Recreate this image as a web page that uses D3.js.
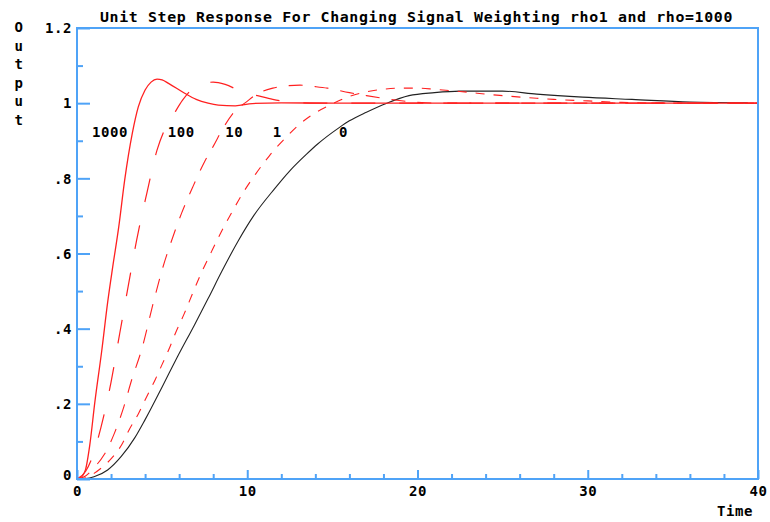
<!DOCTYPE html>
<html>
<head>
    <title>Unit Step Response</title>
    <script src="https://d3js.org/d3.v7.min.js"></script>
    <style>
        body {
            margin: 0;
            background: #fff;
        }
        text {
            font-family: "DejaVu Sans Mono", monospace;
            font-weight: bold;
            font-size: 14px;
            letter-spacing: 0.6px;
            fill: #000;
        }
        .axis line {
            stroke: #4fa3f7;
            stroke-width: 2px;
        }
        .axis path {
            display: none;
        }
    </style>
</head>
<body>
<div id="chart"></div>
<script>
    // values, [time, output]
    const rho1000 = [[0,0],[0.2,0.003],[0.5,0.025],[0.75,0.09],[1.05,0.205],[1.45,0.34],[1.8,0.47],[2.1,0.565],
        [2.45,0.67],[2.8,0.795],[3.25,0.92],[3.6,0.99],[4.0,1.035],[4.35,1.056],[4.7,1.064],[5.0,1.062],[5.4,1.052],
        [6.3,1.027],[7.0,1.01],[7.7,1.0],[8.3,0.995],[9.3,0.993],[10.3,0.999],[12,1.001],[15,1.0],[20,1.0],[40,1.0]];
    const rho100 = [[0,0],[0.5,0.02],[0.88,0.056],[1.4,0.136],[2.0,0.258],[2.5,0.385],[3.0,0.511],[3.5,0.635],
        [4.1,0.76],[4.7,0.875],[5.15,0.93],[5.65,0.968],[6.2,1.008],[6.7,1.035],[7.3,1.05],[8.0,1.056],[8.7,1.05],
        [9.7,1.03],[10.6,1.02],[11.5,1.01],[12.5,1.003],[14,1.0],[20,1.0],[40,1.0]];
    const rho10 = [[0,0],[0.5,0.008],[1.0,0.03],[1.6,0.065],[2.2,0.122],[2.75,0.192],[3.2,0.262],[3.8,0.345],
        [4.5,0.472],[5.05,0.564],[5.6,0.64],[6.15,0.708],[6.8,0.777],[7.5,0.845],[8.0,0.885],[8.6,0.935],[9.4,0.985],
        [9.85,1.0],[10.6,1.025],[11.5,1.04],[12.3,1.046],[13.1,1.048],[14,1.044],[14.7,1.04],[16,1.028],[17,1.02],
        [18,1.013],[19.3,1.005],[20.5,1.001],[22,1.0],[40,1.0]];
    const rho1 = [[0,0],[0.5,0.003],[1.0,0.015],[1.5,0.032],[2.05,0.056],[2.65,0.093],[3.05,0.13],[3.6,0.173],
        [4.05,0.215],[4.6,0.265],[5.0,0.305],[5.4,0.345],[5.8,0.39],[6.3,0.44],[6.8,0.495],[7.3,0.548],[7.9,0.605],
        [8.5,0.66],[9.1,0.71],[9.8,0.765],[10.5,0.812],[11.3,0.86],[12.3,0.91],[13.1,0.945],[14.1,0.977],
        [15,0.998],[16,1.018],[17,1.03],[18,1.037],[19,1.04],[20,1.04],[21,1.037],[22,1.033],[23,1.029],[24,1.024],
        [25,1.02],[27,1.013],[28,1.01],[30,1.006],[32,1.002],[34,1.0],[40,1.0]];
    const rho0 = [[0,0],[0.5,0.001],[1.0,0.006],[1.8,0.024],[2.6,0.06],[3.4,0.11],[4.0,0.158],[5.0,0.245],
        [5.9,0.325],[6.9,0.41],[7.7,0.48],[8.5,0.552],[9.45,0.632],[10.4,0.702],[11.6,0.772],[12.5,0.82],
        [13.5,0.865],[14.1,0.89],[15.4,0.935],[16,0.953],[17,0.976],[18.2,1.0],[19.5,1.02],[21,1.028],[22.5,1.032],
        [25,1.032],[27,1.024],[29.7,1.016],[32.6,1.01],[36,1.003],[39.4,1.001]];

    const curveNames = ["1000", "100", "10", "1", "0"];
    const labelTimes = [1.94, 6.13, 9.24, 11.76, 15.66];
    const labelLevel = 0.91;

    const xMajor = [0, 10, 20, 30, 40];
    const xMinor = [2, 4, 6, 8, 12, 14, 16, 18, 22, 24, 26, 28, 32, 34, 36, 38];
    const yMajor = [0, 0.2, 0.4, 0.6, 0.8, 1, 1.2];
    const yMinor = [0.1, 0.3, 0.5, 0.7, 0.9, 1.1];
    const yTickLabels = ["0", ".2", ".4", ".6", ".8", "1", "1.2"];

    const title = "Unit Step Response For Changing Signal Weighting rho1 and rho=1000";

    const width = 770, height = 522;
    const plotL = 77, plotR = 758, plotT = 28, plotB = 479;

    const svg = d3.select("#chart").append("svg")
        .attr("width", width)
        .attr("height", height);

    const x = d3.scaleLinear().domain([0, 40]).range([plotL, plotR]);
    const y = d3.scaleLinear().domain([0, 1.2]).range([plotB, plotT]);

    // curves
    const series = [
        {data: rho1000, color: "#ff2020", dash: null, w: 1.3},
        {data: rho100, color: "#ff2020", dash: "24,24", w: 1.2},
        {data: rho10, color: "#ff2020", dash: "14,12", w: 1.1},
        {data: rho1, color: "#ff2020", dash: "9,9", w: 1.1},
        {data: rho0, color: "#222", dash: null, w: 1.1}
    ];

    const line = d3.line()
        .x(d => x(d[0]))
        .y(d => y(d[1]))
        .curve(d3.curveMonotoneX);

    // draw black first so the red ones sit on top
    svg.append("g").selectAll("path")
        .data(series.slice().reverse())
        .enter()
        .append("path")
        .attr("d", d => line(d.data))
        .attr("fill", "none")
        .attr("stroke", d => d.color)
        .attr("stroke-width", d => d.w)
        .attr("stroke-dasharray", d => d.dash);

    // frame
    svg.append("rect")
        .attr("x", plotL).attr("y", plotT)
        .attr("width", plotR - plotL).attr("height", plotB - plotT)
        .attr("fill", "none")
        .attr("stroke", "#4fa3f7")
        .attr("stroke-width", 2);

    // x axis
    const xAxis = svg.append("g")
        .attr("class", "axis")
        .attr("transform", `translate(0,${plotB})`)
        .call(d3.axisBottom(x).tickValues(xMajor).tickSize(-9).tickPadding(7).tickFormat(d3.format("d")));
    xAxis.attr("font-size", null).attr("font-family", null);

    svg.append("g")
        .attr("class", "axis")
        .attr("transform", `translate(0,${plotB})`)
        .call(d3.axisBottom(x).tickValues(xMinor).tickSize(-5).tickFormat(""));

    // y axis
    const yAxis = svg.append("g")
        .attr("class", "axis")
        .attr("transform", `translate(${plotL},0)`)
        .call(d3.axisLeft(y).tickValues(yMajor).tickSize(-13).tickPadding(5)
            .tickFormat((d, i) => yTickLabels[i]));
    yAxis.attr("font-size", null).attr("font-family", null);
    yAxis.selectAll("text")
        .attr("dy", d => d === 0 ? "0" : "0.34em");

    svg.append("g")
        .attr("class", "axis")
        .attr("transform", `translate(${plotL},0)`)
        .call(d3.axisLeft(y).tickValues(yMinor).tickSize(-6).tickFormat(""));

    // curve labels
    svg.append("g").selectAll("text")
        .data(curveNames)
        .enter()
        .append("text")
        .attr("x", (d, i) => x(labelTimes[i]))
        .attr("y", y(labelLevel))
        .attr("text-anchor", "middle")
        .text(d => d);

    // title
    svg.append("text")
        .attr("x", 100)
        .attr("y", 22)
        .attr("textLength", 633)
        .attr("lengthAdjust", "spacingAndGlyphs")
        .text(title);

    // vertical "Output"
    svg.append("g").selectAll("text")
        .data("Output".split(""))
        .enter()
        .append("text")
        .attr("x", 19)
        .attr("y", (d, i) => 32 + i * 18.6)
        .attr("text-anchor", "middle")
        .text(d => d);

    svg.append("text")
        .attr("x", 735)
        .attr("y", 516)
        .attr("text-anchor", "middle")
        .text("Time");
</script>
</body>
</html>
